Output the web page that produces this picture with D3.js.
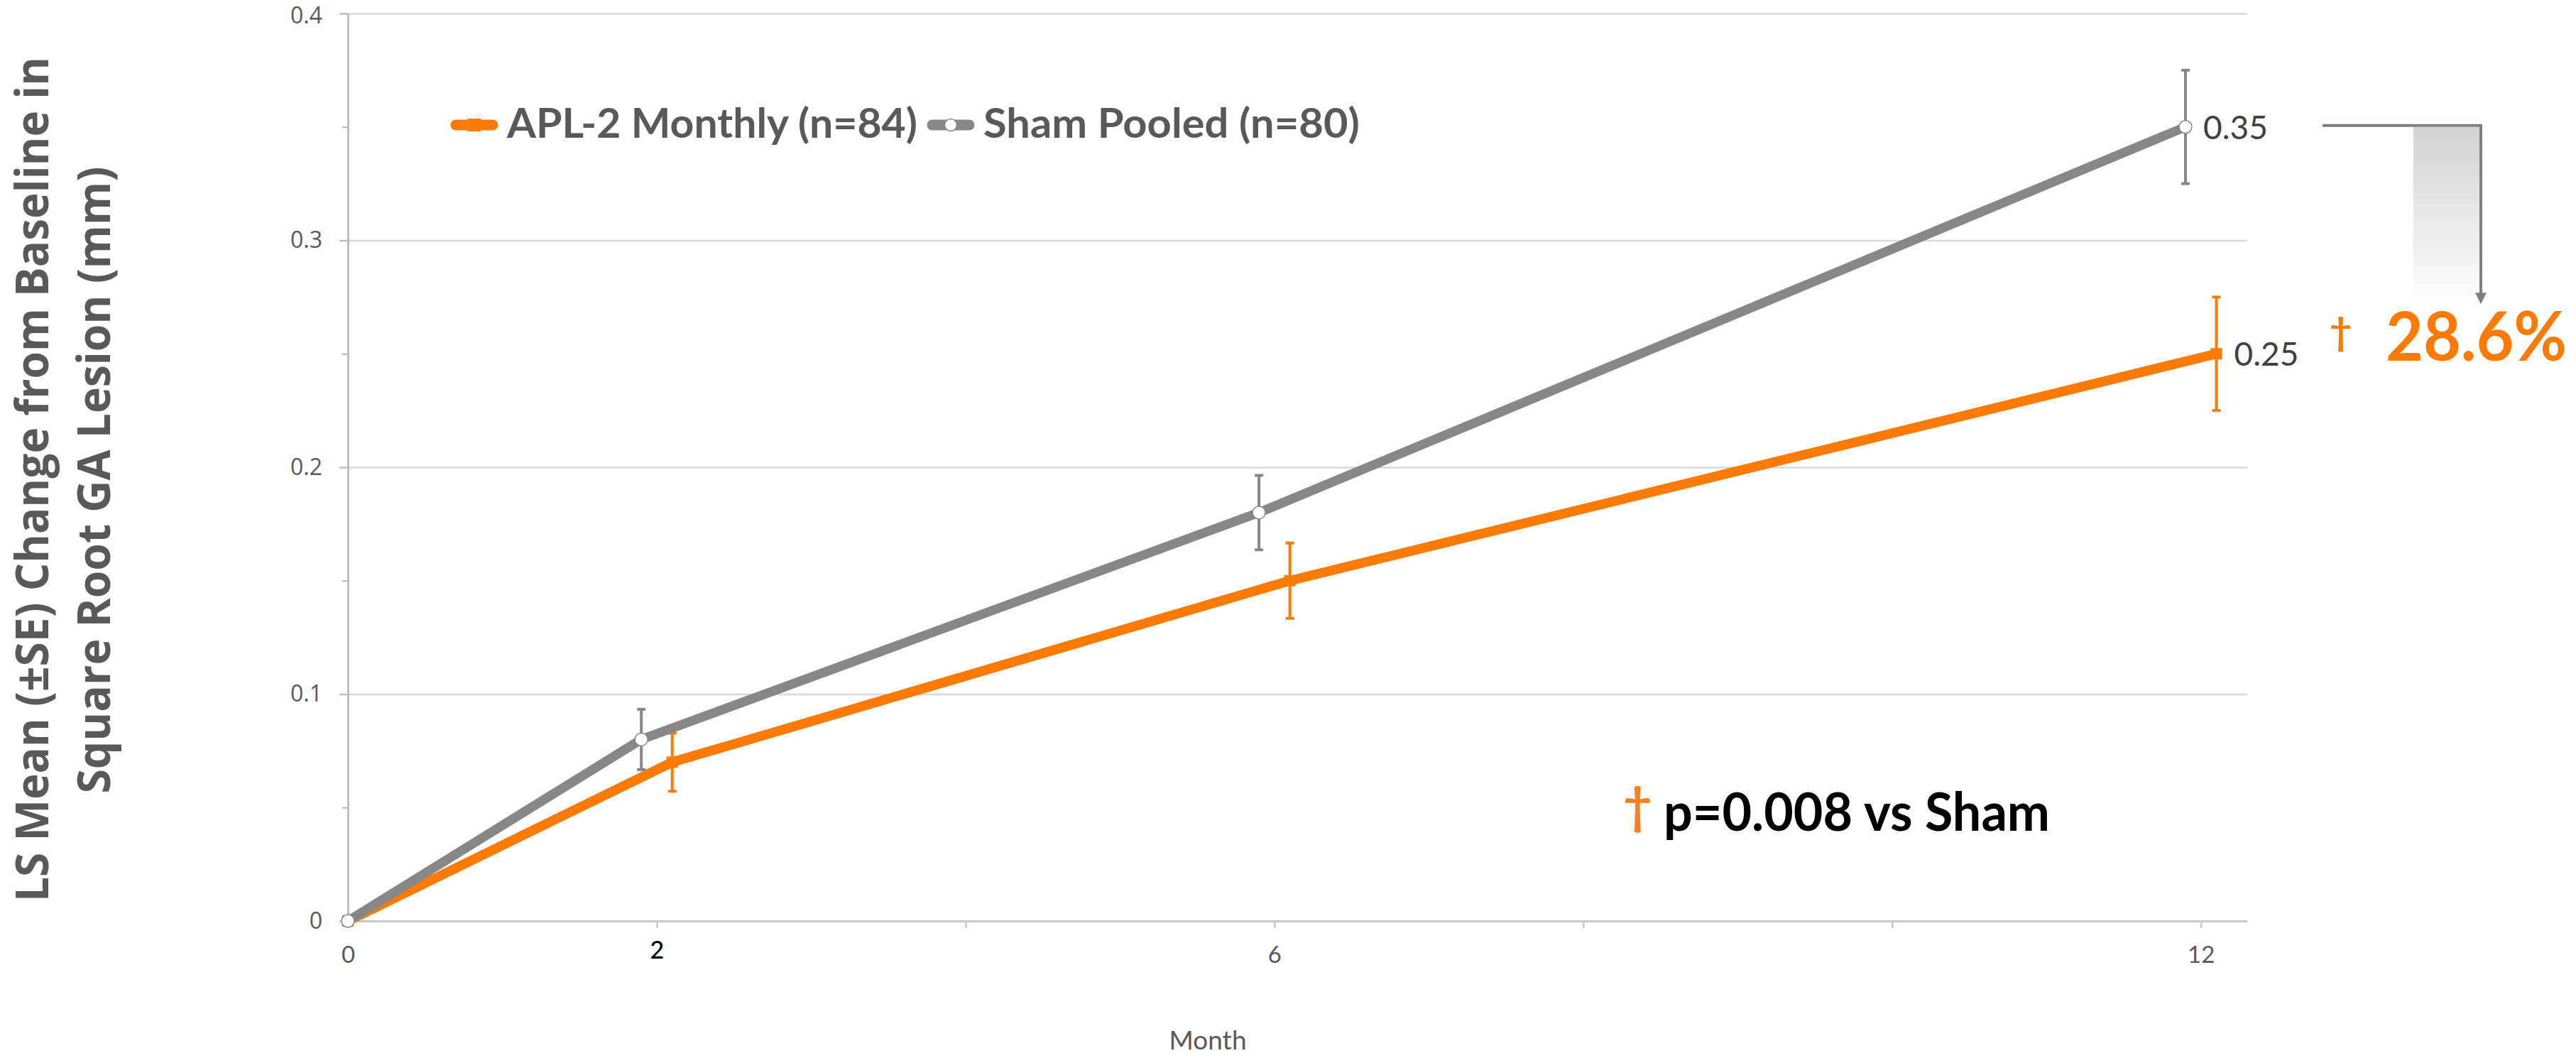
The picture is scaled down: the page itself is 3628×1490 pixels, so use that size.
<!DOCTYPE html>
<html>
<head>
<meta charset="utf-8">
<script src="https://cdn.jsdelivr.net/npm/d3@7"></script>
<style>
  html, body { margin: 0; padding: 0; background: #fff; }
  svg { display: block; }
</style>
</head>
<body>
<div id="chart"></div>
<script>
// ---- data ----
var tickMonths = [0, 2, 4, 6, 8, 10, 12];
var tickLabels = {0: "0", 2: "2", 6: "6", 12: "12"};
var yTicks = [0, 0.1, 0.2, 0.3, 0.4];
var yMinorTicks = [0.05, 0.15, 0.25, 0.35];

var aplName = "APL-2 Monthly (n=84)";
var aplMonth = [0, 2.1, 6.1, 12.1];   // points are nudged right of the tick
var aplMean = [0, 0.070, 0.150, 0.250];
var aplSE = [0, 0.0128, 0.0166, 0.025];

var shamName = "Sham Pooled (n=80)";
var shamMonth = [0, 1.9, 5.9, 11.9];  // nudged left of the tick
var shamMean = [0, 0.080, 0.180, 0.350];
var shamSE = [0, 0.0133, 0.0164, 0.025];

var reductionText = "28.6%";
var pValueText = "p=0.008 vs Sham";
var yTitle = ["LS Mean (\u00B1SE) Change from Baseline in", "Square Root GA Lesion (mm)"];
var xTitle = "Month";

// ---- setup ----
var W = 3628, H = 1490;
var orange = "#ff7a00", grey = "#878787", textGrey = "#595959";
var latin = "Lato, 'Open Sans', sans-serif";

var svg = d3.select("#chart").append("svg")
    .attr("width", W)
    .attr("height", H)
    .style("background", "#fff");

var xScale = d3.scaleLinear().domain([0, 12.3]).range([490, 3165]);
var yScale = d3.scaleLinear().domain([0, 0.4]).range([1297, 19]);

function series(xs, ys, se) {
    return xs.map(function (x, i) { return {x: x, y: ys[i], se: se[i]}; });
}
var aplData = series(aplMonth, aplMean, aplSE);
var shamData = series(shamMonth, shamMean, shamSE);

// ---- gridlines ----
var grid = svg.append("g")
    .attr("transform", "translate(" + xScale(0) + ",0)")
    .call(d3.axisLeft(yScale).tickValues(yTicks.slice(1)).tickSize(-(xScale(12.3) - xScale(0))).tickFormat(""));
grid.select(".domain").remove();
grid.selectAll("line").attr("stroke", "#d9d9d9").attr("stroke-width", 2.5);

// ---- y axis ----
var yMinor = svg.append("g")
    .attr("transform", "translate(" + xScale(0) + ",0)")
    .call(d3.axisLeft(yScale).tickValues(yMinorTicks).tickSize(8).tickFormat(""));
yMinor.select(".domain").remove();
yMinor.selectAll("line").attr("stroke", "#bfbfbf").attr("stroke-width", 2.5);

var yAxis = svg.append("g")
    .attr("transform", "translate(" + xScale(0) + ",0)")
    .call(d3.axisLeft(yScale).tickValues(yTicks).tickSize(12).tickSizeOuter(0).tickPadding(24)
        .tickFormat(function (d) { return d3.format("")(d); }));
yAxis.select(".domain").attr("stroke", "#bfbfbf").attr("stroke-width", 3);
yAxis.selectAll("line").attr("stroke", "#bfbfbf").attr("stroke-width", 2.5);
yAxis.selectAll("text")
    .attr("fill", textGrey)
    .style("font-family", "'Open Sans', sans-serif")
    .style("font-size", "32px");
// keep the top label inside the page
yAxis.selectAll("text")
    .filter(function (d) { return d === 0.4; })
    .attr("transform", "translate(0,3)");

// ---- x axis ----
var xAxis = svg.append("g")
    .attr("transform", "translate(0," + yScale(0) + ")")
    .call(d3.axisBottom(xScale).tickValues(tickMonths).tickSize(10).tickSizeOuter(0).tickPadding(26)
        .tickFormat(function (d) { return tickLabels[d] || ""; }));
xAxis.select(".domain").attr("stroke", "#c8c8c8").attr("stroke-width", 3);
xAxis.selectAll("line").attr("stroke", "#c8c8c8").attr("stroke-width", 2.5);
xAxis.selectAll("text")
    .attr("fill", textGrey)
    .style("font-family", latin)
    .style("font-size", "33px");
// the "2" label in the original is black and sits a little higher
xAxis.selectAll("text")
    .filter(function (d) { return d === 2; })
    .attr("fill", "#000")
    .attr("transform", "translate(0,-7)")
    .style("font-weight", 500)
    .style("font-size", "34px");

svg.append("text")
    .attr("x", 1701)
    .attr("y", 1478)
    .attr("text-anchor", "middle")
    .attr("fill", textGrey)
    .style("font-family", latin)
    .style("font-size", "37px")
    .text(xTitle);

// ---- y title (two rotated lines) ----
svg.append("text")
    .attr("transform", "translate(68,675) rotate(-90)")
    .attr("text-anchor", "middle")
    .attr("fill", textGrey)
    .attr("textLength", 1190)
    .attr("lengthAdjust", "spacingAndGlyphs")
    .style("font-family", "'Open Sans', sans-serif")
    .style("font-weight", 700)
    .style("font-size", "64px")
    .text(yTitle[0]);
svg.append("text")
    .attr("transform", "translate(155,676) rotate(-90)")
    .attr("text-anchor", "middle")
    .attr("fill", textGrey)
    .attr("textLength", 883)
    .attr("lengthAdjust", "spacingAndGlyphs")
    .style("font-family", "'Open Sans', sans-serif")
    .style("font-weight", 700)
    .style("font-size", "64px")
    .text(yTitle[1]);

// ---- series ----
var line = d3.line()
    .x(function (d) { return xScale(d.x); })
    .y(function (d) { return yScale(d.y); });

function drawErrorBars(g, data, color) {
    var bars = g.selectAll(".err")
        .data(data.filter(function (d) { return d.se > 0; }))
        .enter().append("g")
        .attr("class", "err")
        .attr("stroke", color)
        .attr("stroke-width", 4);
    bars.append("line")
        .attr("x1", function (d) { return xScale(d.x); })
        .attr("x2", function (d) { return xScale(d.x); })
        .attr("y1", function (d) { return yScale(d.y + d.se); })
        .attr("y2", function (d) { return yScale(d.y - d.se); });
    [1, -1].forEach(function (s) {
        bars.append("line")
            .attr("x1", function (d) { return xScale(d.x) - 6; })
            .attr("x2", function (d) { return xScale(d.x) + 6; })
            .attr("y1", function (d) { return yScale(d.y + s * d.se); })
            .attr("y2", function (d) { return yScale(d.y + s * d.se); });
    });
}

var aplG = svg.append("g").attr("class", "apl");
aplG.append("path")
    .datum(aplData)
    .attr("d", line)
    .attr("fill", "none")
    .attr("stroke", orange)
    .attr("stroke-width", 13.5)
    .attr("stroke-linejoin", "round");
drawErrorBars(aplG, aplData, orange);
aplG.selectAll(".mk")
    .data(aplData)
    .enter().append("rect")
    .attr("class", "mk")
    .attr("x", function (d) { return xScale(d.x) - 8; })
    .attr("y", function (d) { return yScale(d.y) - 8; })
    .attr("width", 16)
    .attr("height", 16)
    .attr("fill", orange);

var shamG = svg.append("g").attr("class", "sham");
shamG.append("path")
    .datum(shamData)
    .attr("d", line)
    .attr("fill", "none")
    .attr("stroke", grey)
    .attr("stroke-width", 13)
    .attr("stroke-linejoin", "round");
drawErrorBars(shamG, shamData, grey);
shamG.selectAll(".mk")
    .data(shamData)
    .enter().append("circle")
    .attr("class", "mk")
    .attr("cx", function (d) { return xScale(d.x); })
    .attr("cy", function (d) { return yScale(d.y); })
    .attr("r", 9)
    .attr("fill", "#fff")
    .attr("stroke", grey)
    .attr("stroke-width", 1.5);

// value labels on the last point
var lastLabels = [shamData[shamData.length - 1], aplData[aplData.length - 1]];
svg.selectAll(".vlabel")
    .data(lastLabels)
    .enter().append("text")
    .attr("class", "vlabel")
    .attr("x", function (d) { return xScale(d.x) + 25; })
    .attr("y", function (d) { return yScale(d.y) + 17; })
    .attr("fill", "#404040")
    .style("font-family", latin)
    .style("font-size", "46px")
    .text(function (d) { return d3.format(".2f")(d.y); });

// ---- legend ----
var legend = svg.append("g").attr("class", "legend");
var legendItems = [
    {name: aplName, color: orange, x: 635, tx: 714, len: 578, mark: "square"},
    {name: shamName, color: grey, x: 1306, tx: 1385, len: 530, mark: "circle"}
];
legendItems.forEach(function (it) {
    legend.append("line")
        .attr("x1", it.x + 7).attr("x2", it.x + 59)
        .attr("y1", 176).attr("y2", 176)
        .attr("stroke", it.color)
        .attr("stroke-width", 15)
        .attr("stroke-linecap", "round");
    if (it.mark === "square") {
        legend.append("rect")
            .attr("x", it.x + 24).attr("y", 167)
            .attr("width", 18).attr("height", 18)
            .attr("fill", it.color);
    } else {
        legend.append("circle")
            .attr("cx", it.x + 33).attr("cy", 176).attr("r", 8.5)
            .attr("fill", "#fff")
            .attr("stroke", it.color)
            .attr("stroke-width", 1.5);
    }
    legend.append("text")
        .attr("x", it.tx)
        .attr("y", 194)
        .attr("fill", textGrey)
        .attr("textLength", it.len)
        .attr("lengthAdjust", "spacingAndGlyphs")
        .style("font-family", latin)
        .style("font-weight", 700)
        .style("font-size", "57px")
        .text(it.name);
});

// ---- reduction bracket: 0.35 level down to the 28.6% callout ----
var defs = svg.append("defs");
var grad = defs.append("linearGradient")
    .attr("id", "fade")
    .attr("x1", 0).attr("y1", 0).attr("x2", 0).attr("y2", 1);
grad.append("stop").attr("offset", "0%").attr("stop-color", "#d2d2d2");
grad.append("stop").attr("offset", "100%").attr("stop-color", "#ffffff");

var topY = yScale(shamMean[3]) - 2;
var tipY = yScale(aplMean[3]) - 70;
svg.append("rect")
    .attr("x", 3399)
    .attr("y", topY + 2)
    .attr("width", 93)
    .attr("height", tipY + 5 - topY)
    .attr("fill", "url(#fade)");
svg.append("path")
    .attr("d", "M3271," + topY + "H3494V" + (tipY - 14))
    .attr("fill", "none")
    .attr("stroke", "#808080")
    .attr("stroke-width", 4);
svg.append("path")
    .attr("d", "M3486," + (tipY - 16) + "L3502," + (tipY - 16) + "L3494," + tipY + "Z")
    .attr("fill", "#808080");

svg.append("text")
    .attr("x", 3281)
    .attr("y", 486)
    .attr("fill", orange)
    .style("font-family", latin)
    .style("font-weight", 700)
    .style("font-size", "54px")
    .text("\u2020");
svg.append("text")
    .attr("x", 3360)
    .attr("y", 508)
    .attr("fill", orange)
    .attr("textLength", 255)
    .attr("lengthAdjust", "spacingAndGlyphs")
    .style("font-family", latin)
    .style("font-weight", 700)
    .style("font-size", "95px")
    .text(reductionText);

// ---- p-value note ----
svg.append("text")
    .attr("x", 2286)
    .attr("y", 1160)
    .attr("fill", "#ff7f27")
    .style("font-family", latin)
    .style("font-weight", 700)
    .style("font-size", "70px")
    .text("\u2020");
svg.append("text")
    .attr("x", 2343)
    .attr("y", 1170)
    .attr("fill", "#000")
    .attr("textLength", 544)
    .attr("lengthAdjust", "spacingAndGlyphs")
    .style("font-family", latin)
    .style("font-weight", 700)
    .style("font-size", "74px")
    .text(pValueText);
</script>
</body>
</html>
